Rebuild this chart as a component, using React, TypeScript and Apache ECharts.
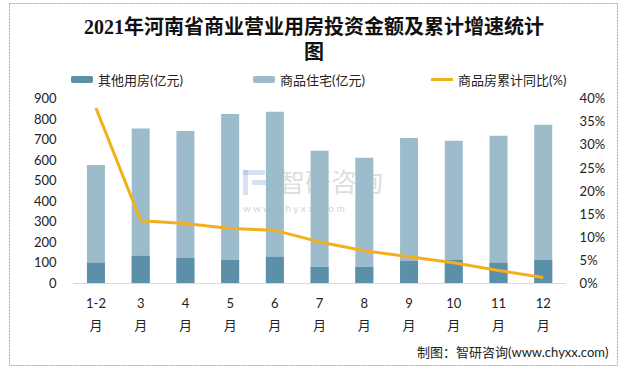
import React, { useEffect, useRef } from "react";
import * as echarts from "echarts";

const categories = ["1-2\n月", "3\n月", "4\n月", "5\n月", "6\n月", "7\n月", "8\n月", "9\n月", "10\n月", "11\n月", "12\n月"];
const otherValues = [98, 132, 122, 112, 127, 78, 78, 107, 112, 98, 112];
const residentialValues = [575, 753, 741, 824, 834, 644, 610, 707, 693, 717, 771];
const growthValues = [37.9, 13.5, 12.9, 11.8, 11.4, 8.9, 7.0, 5.7, 4.4, 2.7, 1.2];
const leftTicks = { min: 0, max: 900, interval: 100 };
const rightTicks = { min: 0, max: 40, interval: 5 };

const nameOther = "其他用房(亿元)";
const nameRes = "商品住宅(亿元)";
const nameGrowth = "商品房累计同比(%)";

const FONT = "Lato, 'Noto Sans CJK SC', sans-serif";

export default function App() {
  const ref = useRef<HTMLDivElement>(null);
  useEffect(() => {
    if (!ref.current) return;
    const chart = echarts.init(ref.current, undefined, { renderer: "svg" });
    const legendText = { fontSize: 13, color: "#222", fontFamily: FONT };
    chart.setOption({
      animation: false,
      backgroundColor: "#fff",
      title: {
        text: "2021年河南省商业营业用房投资金额及累计增速统计\n图",
        left: "center",
        top: 9,
        textStyle: {
          fontSize: 20,
          fontWeight: "bold",
          color: "#111",
          lineHeight: 25,
          fontFamily: "'Liberation Serif', 'Noto Sans CJK SC', serif",
        },
      },
      legend: [
        { data: [nameOther], left: 66, top: 68, itemWidth: 22, itemHeight: 7, itemGap: 4, textStyle: legendText },
        { data: [nameRes], left: 248, top: 68, itemWidth: 22, itemHeight: 7, textStyle: legendText },
        { data: [{ name: nameGrowth, icon: "rect" }], left: 426, top: 68, itemWidth: 22, itemHeight: 3, textStyle: legendText },
      ],
      grid: { left: 73.6, right: 62.4, top: 98.3, bottom: 88, containLabel: false },
      xAxis: {
        type: "category",
        data: categories,
        axisLine: { lineStyle: { color: "#d9d9d9", width: 1 } },
        axisTick: { show: false },
        axisLabel: { fontSize: 13, color: "#222", fontFamily: FONT, lineHeight: 22, margin: 9, interval: 0 },
      },
      yAxis: [
        {
          type: "value",
          ...leftTicks,
          splitLine: { show: false },
          axisLine: { show: false },
          axisTick: { show: false },
          axisLabel: { fontSize: 13, color: "#222", fontFamily: FONT, margin: 17 },
        },
        {
          type: "value",
          ...rightTicks,
          position: "right",
          splitLine: { show: false },
          axisLine: { show: false },
          axisTick: { show: false },
          axisLabel: { fontSize: 13, color: "#222", fontFamily: FONT, margin: 14, formatter: "{value}%" },
        },
      ],
      series: [
        {
          name: nameRes,
          type: "bar",
          data: residentialValues,
          barWidth: 18,
          itemStyle: { color: "#9dbccb" },
        },
        {
          name: nameOther,
          type: "bar",
          data: otherValues,
          barWidth: 18,
          barGap: "-100%",
          itemStyle: { color: "#5b90a8" },
        },
        {
          name: nameGrowth,
          type: "line",
          yAxisIndex: 1,
          data: growthValues,
          symbol: "none",
          lineStyle: { color: "#f2b01e", width: 3 },
          itemStyle: { color: "#f2b01e" },
          z: 5,
        },
      ],
      graphic: [
        {
          type: "rect",
          shape: { x: 9.5, y: 3.5, width: 608, height: 362 },
          style: { fill: "none", stroke: "#a6a6a6", lineWidth: 1, lineDash: [2, 1] },
          silent: true,
        },
        {
          type: "group",
          left: 243,
          top: 167,
          silent: true,
          children: [
            { type: "rect", shape: { x: 0, y: 0, width: 22, height: 5 }, style: { fill: "rgba(120,160,210,0.3)" } },
            { type: "rect", shape: { x: 0, y: 0, width: 5, height: 25 }, style: { fill: "rgba(120,160,210,0.3)" } },
            { type: "rect", shape: { x: 9, y: 10, width: 16, height: 5 }, style: { fill: "rgba(120,160,210,0.3)" } },
            { type: "rect", shape: { x: 25, y: 0, width: 6, height: 25 }, style: { fill: "rgba(120,160,210,0.3)" } },
            {
              type: "text",
              x: 36,
              y: -3,
              style: { text: "智研咨询", fontSize: 26, fill: "rgba(140,140,140,0.3)", fontFamily: "'Noto Sans CJK SC', sans-serif" },
            },
            {
              type: "text",
              x: 0,
              y: 33,
              style: { text: "w w w . c h y x x . c o m", fontSize: 10, fill: "rgba(140,140,140,0.4)", fontFamily: FONT },
            },
          ],
        },
        {
          type: "text",
          right: 20,
          top: 345,
          style: { text: "制图：智研咨询(www.chyxx.com)", fontSize: 13, fill: "#222", fontFamily: FONT },
        },
      ],
    });
    return () => chart.dispose();
  }, []);
  return <div ref={ref} style={{ position: "fixed", left: 0, top: 0, width: 628, height: 371 }} />;
}
